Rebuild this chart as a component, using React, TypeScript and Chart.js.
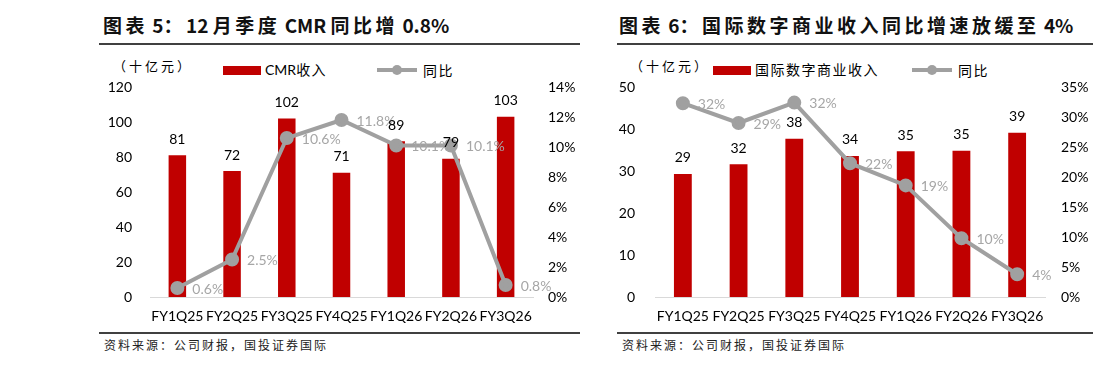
import React, { useEffect, useRef } from "react";
import { Chart, registerables } from "chart.js";

Chart.register(...registerables);

const categories = ["FY1Q25", "FY2Q25", "FY3Q25", "FY4Q25", "FY1Q26", "FY2Q26", "FY3Q26"];
const cmrRevenue = [81, 72, 102, 71, 89, 79, 103];
const cmrYoY = [0.6, 2.5, 10.6, 11.8, 10.1, 10.1, 0.8];
const cmrYoYLabels = ["0.6%", "2.5%", "10.6%", "11.8%", "10.1%", "10.1%", "0.8%"];
const idcRevenue = [29.3, 31.6, 37.7, 33.6, 34.7, 34.8, 39.1];
const idcRevenueLabels = ["29", "32", "38", "34", "35", "35", "39"];
const idcYoY = [32.3, 29.0, 32.4, 22.3, 18.6, 9.8, 3.8];
const idcYoYLabels = ["32%", "29%", "32%", "22%", "19%", "10%", "4%"];

const RED = "#c00000";
const GRAY = "#a0a0a0";
const LABEL_GRAY = "#a6a6a6";
const NUM_FONT = "Lato, 'Noto Sans', sans-serif";
const CJK_FONT = "'Noto Sans CJK SC', sans-serif";

type PanelProps = {
  x: number;
  title: string;
  barName: string;
  bars: number[];
  barLabels: string[];
  line: number[];
  lineLabels: string[];
  yMax: number;
  yStep: number;
  y1Max: number;
  y1Step: number;
  canvasLeft: number;
  canvasWidth: number;
  leftW: number;
  rightW: number;
  leftPad: number;
  rightPad: number;
  unitX: number;
  legendRedX: number;
  legendLineX: number;
  lineStart: number;
  lineEnd: number;
};

function Spaced({ text, cjkSpacing }: { text: string; cjkSpacing: number }) {
  const parts = text.match(/[\u3000-\u9fff\uff00-\uffef]+|[^\u3000-\u9fff\uff00-\uffef]+/g) || [];
  return (
    <>
      {parts.map((t, i) =>
        /[\u3000-\u9fff\uff00-\uffef]/.test(t) ? (
          <span key={i} style={{ letterSpacing: cjkSpacing }}>{t}</span>
        ) : (
          <span key={i}>{t}</span>
        )
      )}
    </>
  );
}

function Panel(p: PanelProps) {
  const ref = useRef<HTMLCanvasElement>(null);
  useEffect(() => {
    if (!ref.current) return;
    const labelPlugin = {
      id: "labels",
      afterDatasetsDraw(chart: any) {
        const ctx = chart.ctx;
        ctx.save();
        ctx.font = `14px ${NUM_FONT}`;
        ctx.textBaseline = "middle";
        const lineMeta = chart.getDatasetMeta(1);
        ctx.fillStyle = LABEL_GRAY;
        ctx.textAlign = "left";
        lineMeta.data.forEach((pt: any, i: number) => {
          ctx.fillText(p.lineLabels[i], pt.x + 15, pt.y + 1);
        });
        const barMeta = chart.getDatasetMeta(0);
        ctx.fillStyle = "#000";
        ctx.textAlign = "center";
        barMeta.data.forEach((b: any, i: number) => {
          ctx.fillText(p.barLabels[i], b.x, b.y - 16);
        });
        ctx.restore();
      },
    };
    const chart = new Chart(ref.current, {
      type: "bar",
      data: {
        labels: categories,
        datasets: [
          {
            type: "bar",
            label: p.barName,
            data: p.bars,
            backgroundColor: RED,
            yAxisID: "y",
            order: 2,
            barPercentage: 0.32,
            categoryPercentage: 1,
          },
          {
            type: "line",
            label: "同比",
            data: p.line,
            borderColor: GRAY,
            backgroundColor: GRAY,
            borderWidth: 4,
            pointRadius: 5,
            pointBackgroundColor: GRAY,
            pointBorderColor: GRAY,
            yAxisID: "y1",
            order: 1,
            tension: 0,
          },
        ],
      },
      options: {
        animation: false,
        responsive: false,
        maintainAspectRatio: false,
        layout: { padding: { top: 32, left: 0, right: 0, bottom: 0 } },
        plugins: { legend: { display: false }, tooltip: { enabled: false } },
        scales: {
          x: {
            offset: true,
            grid: { display: false, drawTicks: false },
            border: { display: true, color: "#d9d9d9", width: 1 },
            ticks: {
              color: "#000",
              font: { family: NUM_FONT, size: 14 },
              padding: 11,
              maxRotation: 0,
              autoSkip: false,
            },
            afterFit: (s: any) => { s.height = 33; },
          },
          y: {
            position: "left",
            min: 0,
            max: p.yMax,
            grid: { display: false, drawTicks: false },
            border: { display: false },
            ticks: { stepSize: p.yStep, color: "#000", font: { family: NUM_FONT, size: 14 }, padding: p.leftPad },
            afterFit: (s: any) => { s.width = p.leftW; },
          },
          y1: {
            position: "right",
            min: 0,
            max: p.y1Max,
            grid: { display: false, drawTicks: false },
            border: { display: false },
            ticks: {
              stepSize: p.y1Step,
              color: "#000",
              font: { family: NUM_FONT, size: 14 },
              padding: p.rightPad,
              callback: (v: any) => `${v}%`,
            },
            afterFit: (s: any) => { s.width = p.rightW; },
          },
        },
      },
      plugins: [labelPlugin],
    } as any);
    return () => chart.destroy();
  }, []);

  const abs = (l: number, t: number): React.CSSProperties => ({ position: "absolute", left: l, top: t });

  return (
    <>
      <div
        style={{
          ...abs(p.x, 12),
          fontFamily: CJK_FONT,
          fontWeight: 700,
          fontSize: 19,
          color: "#111",
          whiteSpace: "nowrap",
          lineHeight: "26px",
        }}
      >
        <Spaced text={p.title} cjkSpacing={3.5} />
      </div>
      <div style={{ ...abs(p.lineStart, 43), width: p.lineEnd - p.lineStart, height: 2, background: "#404040" }} />
      <div style={{ ...abs(p.unitX, 57), fontFamily: CJK_FONT, fontSize: 13, color: "#000", whiteSpace: "nowrap", lineHeight: "18px", letterSpacing: 3 }}>
        （十亿元）
      </div>
      <div style={{ ...abs(p.legendRedX, 66), width: 38, height: 9, background: RED }} />
      <div style={{ ...abs(p.legendRedX + 42, 61), fontFamily: `${NUM_FONT}, ${CJK_FONT}`, fontSize: 14, color: "#000", whiteSpace: "nowrap", lineHeight: "18px" }}>
        <Spaced text={p.barName} cjkSpacing={1.5} />
      </div>
      <div style={{ ...abs(p.legendLineX, 68), width: 40, height: 4, background: GRAY }} />
      <div style={{ ...abs(p.legendLineX + 15, 65), width: 10, height: 10, borderRadius: 5, background: GRAY }} />
      <div style={{ ...abs(p.legendLineX + 46, 61), fontFamily: CJK_FONT, fontSize: 14, color: "#000", whiteSpace: "nowrap", lineHeight: "18px", letterSpacing: 1.5 }}>
        同比
      </div>
      <canvas ref={ref} width={p.canvasWidth} height={275} style={{ ...abs(p.canvasLeft, 55), width: p.canvasWidth, height: 275 }} />
      <div style={{ ...abs(p.lineStart, 332), width: p.lineEnd - p.lineStart, height: 2, background: "#404040" }} />
      <div style={{ ...abs(p.lineStart + 5, 337), fontFamily: CJK_FONT, fontSize: 12, color: "#222", whiteSpace: "nowrap", lineHeight: "16px", letterSpacing: 2 }}>
        资料来源：公司财报，国投证券国际
      </div>
    </>
  );
}

export default function App() {
  return (
    <div style={{ position: "absolute", left: 0, top: 0, width: 1099, height: 368, background: "#fff", overflow: "hidden" }}>
      <Panel
        x={103}
        title="图表 5：12 月季度 CMR 同比增 0.8%"
        barName="CMR收入"
        bars={cmrRevenue}
        barLabels={cmrRevenue.map(String)}
        line={cmrYoY}
        lineLabels={cmrYoYLabels}
        yMax={120}
        yStep={20}
        y1Max={14}
        y1Step={2}
        canvasLeft={95}
        canvasWidth={495}
        leftW={55}
        rightW={57}
        leftPad={18}
        rightPad={15}
        unitX={113}
        legendRedX={223}
        legendLineX={377}
        lineStart={99}
        lineEnd={580}
      />
      <Panel
        x={619}
        title="图表 6：国际数字商业收入同比增速放缓至 4%"
        barName="国际数字商业收入"
        bars={idcRevenue}
        barLabels={idcRevenueLabels}
        line={idcYoY}
        lineLabels={idcYoYLabels}
        yMax={50}
        yStep={10}
        y1Max={35}
        y1Step={5}
        canvasLeft={610}
        canvasWidth={485}
        leftW={45}
        rightW={50}
        leftPad={20}
        rightPad={16}
        unitX={630}
        legendRedX={713}
        legendLineX={912}
        lineStart={617}
        lineEnd={1093}
      />
    </div>
  );
}
